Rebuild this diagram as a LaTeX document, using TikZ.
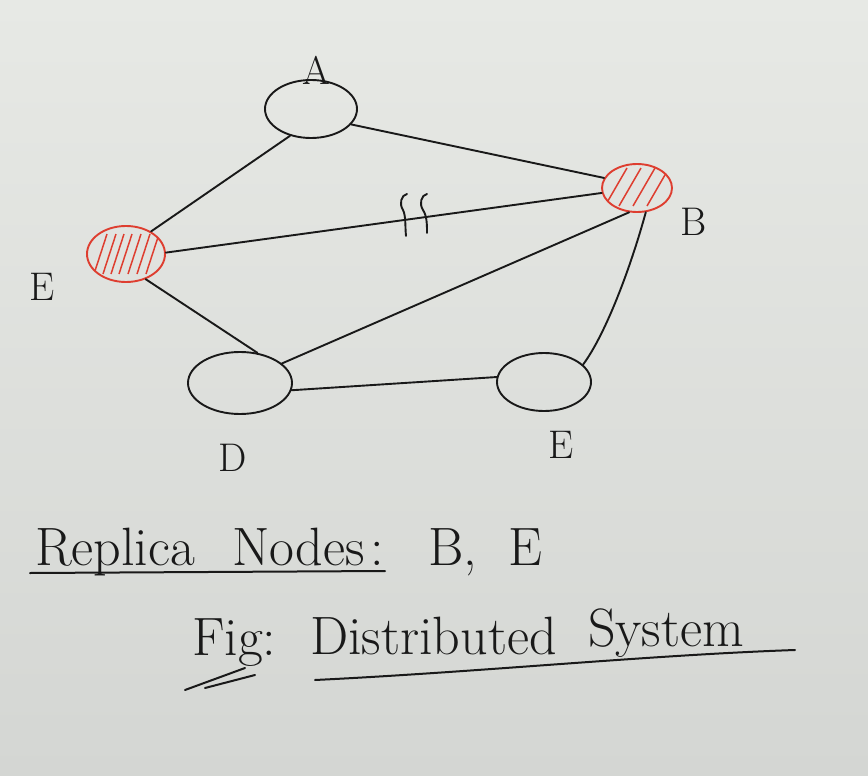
\documentclass[tikz,border=0pt]{standalone}
\usetikzlibrary{shapes.geometric}
\definecolor{bgtop}{RGB}{231,233,229}
\definecolor{bgbot}{RGB}{212,214,211}
\definecolor{ink}{RGB}{25,25,25}
\definecolor{redink}{RGB}{222,62,48}
\begin{document}
\begin{tikzpicture}[x=1pt,y=-1pt,
  plain/.style={ellipse,draw=ink,line width=1.9pt,inner sep=0pt},
  replica/.style={ellipse,draw=redink,line width=1.9pt,inner sep=0pt},
  edge/.style={draw=ink,line width=1.9pt,line cap=round},
  lbl/.style={font=\fontsize{40}{42}\selectfont,text=ink,inner sep=0pt},
  hand/.style={font=\fontsize{54}{58}\selectfont,text=ink,inner sep=0pt,anchor=base west},
  uline/.style={draw=ink,line width=2pt,line cap=round}]
\shade[top color=bgtop,bottom color=bgbot] (0,0) rectangle (868,776);
\useasboundingbox (0,0) rectangle (868,776);

% nodes
\node[plain,minimum width=92pt,minimum height=58pt] (A) at (311,109) {};
\node[replica,minimum width=70pt,minimum height=48pt,
  path picture={
    \foreach \i in {-22,-8,6,20}{
      \draw[redink,line width=1.5pt] ([xshift=\i pt-10pt,yshift=-18pt]path picture bounding box.center) -- ++(22pt,38pt);
    }}] (B) at (637,188) {};
\node[replica,minimum width=78pt,minimum height=56pt,
  path picture={
    \foreach \i in {-26,-17,-9,-1,8,17,26}{
      \draw[redink,line width=1.5pt] ([xshift=\i pt-6pt,yshift=-20pt]path picture bounding box.center) -- ++(13pt,40pt);
    }}] (E) at (126,254) {};
\node[plain,minimum width=104pt,minimum height=62pt] (D) at (240,383) {};
\node[plain,minimum width=94pt,minimum height=58pt] (C) at (544,382) {};

% labels
\node[lbl] (lA) at (316,70) {A};
\node[lbl] (lB) at (694,222) {B};
\node[lbl] (lE) at (42,287) {E};
\node[lbl] (lD) at (233,458) {D};
\node[lbl] (lC) at (561,445) {E};

% edges
\draw[edge] (A.232) -- (E.42);
\draw[edge] (A.339) -- (B.163);
\draw[edge] (E.2) -- (B.188);
\draw[edge] (E.308) -- (D.60);
\draw[edge] (D.25) -- (B.252);
\draw[edge] (D.352) -- (C.174);
\draw[edge] (C.24) .. controls (605,335) and (630,270) .. (B.290);

% break mark on E--B edge
\coordinate (m1) at (407,194);
\coordinate (m2) at (427,194);
\draw[edge] (m1) .. controls (401,195) and (399,204) .. (403,210) .. controls (406,216) and (405,226) .. (406,236);
\draw[edge] (m2) .. controls (421,195) and (419,204) .. (423,210) .. controls (427,216) and (427,225) .. (427,233);

% bottom text
\node[hand] (t1) at (35,565) {Replica};
\node[hand] (t2) at (232,565) {Nodes};
\node[hand] (t3) at (370,565) {:};
\node[hand] (t4) at (428,565) {B,};
\node[hand] (t5) at (508,565) {E};
\coordinate (u1) at (30,573);
\coordinate (u2) at (385,571);
\draw[uline] (u1) -- (u2);

\node[hand] (f1) at (192,655) {Fig:};
\node[hand] (f2) at (310,654) {Distributed};
\node[hand] (f3) at (588,646) {System};
\coordinate (u3) at (315,680);
\coordinate (u4) at (795,650);
\draw[uline] (u3) .. controls (480,672) and (650,655) .. (u4);
\coordinate (g1) at (185,690);
\coordinate (g2) at (245,668);
\coordinate (g3) at (205,688);
\coordinate (g4) at (255,675);
\draw[uline] (g1) -- (g2);
\draw[uline] (g3) -- (g4);
\end{tikzpicture}
\end{document}
